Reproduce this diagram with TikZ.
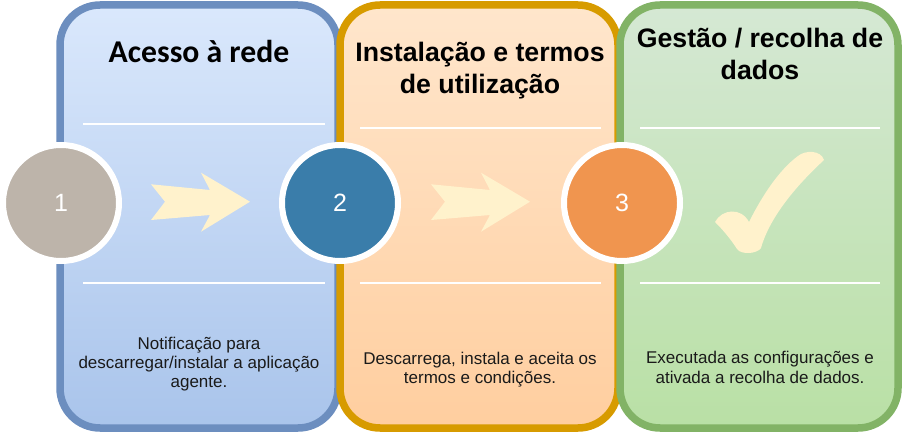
\documentclass[tikz,border=0pt]{standalone}
\usepackage{fontspec}
\setmainfont{Liberation Sans}
\newfontfamily\carl{Carlito}
\definecolor{bluebd}{HTML}{6C8EBF}
\definecolor{bluetop}{HTML}{DAE8FC}
\definecolor{bluebot}{HTML}{A9C4EB}
\definecolor{orbd}{HTML}{D79B00}
\definecolor{ortop}{HTML}{FFE6CC}
\definecolor{orbot}{HTML}{FFCE9F}
\definecolor{grbd}{HTML}{82B366}
\definecolor{grtop}{HTML}{D5E8D4}
\definecolor{grbot}{HTML}{B9E0A5}
\definecolor{cone}{HTML}{BDB4AA}
\definecolor{ctwo}{HTML}{3A7DAA}
\definecolor{cthree}{HTML}{F0954F}
\definecolor{arrowcol}{HTML}{FFF2CC}
\definecolor{bodytext}{HTML}{1A1A1A}
\begin{document}
\begin{tikzpicture}[x=1pt,y=-1pt,
  panel/.style={draw, line width=7.5pt, rounded corners=40pt, minimum width=278pt, minimum height=423pt, inner sep=0pt, outer sep=0pt},
  numcircle/.style={circle, draw=white, line width=6pt, minimum size=116pt, inner sep=0pt, text=white, font=\fontsize{25}{29}\selectfont},
  sepline/.style={draw=white, line width=2pt},
  titletext/.style={anchor=base, inner sep=0pt, font=\fontsize{26.7}{32}\selectfont\bfseries},
  titleone/.style={anchor=base, inner sep=0pt, font=\carl\fontsize{31.7}{36}\selectfont\bfseries},
  bodyline/.style={anchor=base, inner sep=0pt, text=bodytext, font=\fontsize{17}{20}\selectfont},
  deco/.style={fill=arrowcol, draw=none}
]
\useasboundingbox (0,0) rectangle (904,438);

% panels
\node[panel, draw=bluebd, top color=bluetop, bottom color=bluebot] (p1) at (199,216.5) {};
\node[panel, draw=orbd, top color=ortop, bottom color=orbot] (p2) at (479,216.5) {};
\node[panel, draw=grbd, top color=grtop, bottom color=grbot] (p3) at (759,216.5) {};

% separator lines
\draw[sepline] (83,124) -- (325,124);
\draw[sepline] (83,283) -- (325,283);
\draw[sepline] (360,128) -- (601,128);
\draw[sepline] (360,283) -- (601,283);
\draw[sepline] (640,128) -- (880,128);
\draw[sepline] (640,283) -- (880,283);

% arrows
\foreach \dx in {0,280}{
  \fill[deco] (151+\dx,184.3) -- (165+\dx,201.7) -- (151+\dx,220) -- (210+\dx,215) -- (201+\dx,231.7)
    -- (250+\dx,201.7) -- (201+\dx,172.7) -- (210+\dx,190) -- cycle;
}

% check mark
\fill[deco] (715,222) .. controls (722,209) and (741,207) .. (749,222)
  .. controls (762,196) and (779,170) .. (798,156)
  .. controls (805,150) and (821,150) .. (824,160)
  .. controls (798,184) and (770,216) .. (761,248)
  .. controls (757,254) and (741,255) .. (737,249)
  .. controls (730,238) and (722,229) .. (715,222) -- cycle;

% circles
\node[numcircle, fill=cone] (c1) at (61,203) {1};
\node[numcircle, fill=ctwo] (c2) at (340,203) {2};
\node[numcircle, fill=cthree] (c3) at (622,203) {3};

% titles
\node[titleone] (h1) at (199,63) {Acesso à rede};
\node[titletext] (h2a) at (480,61.5) {Instalação e termos};
\node[titletext] (h2b) at (480,93.5) {de utilização};
\node[titletext] (h3a) at (760,47.5) {Gestão / recolha de};
\node[titletext] (h3b) at (760,79.5) {dados};

% body texts
\node[bodyline] (b1a) at (199,349) {Notificação para};
\node[bodyline] (b1b) at (199,368) {descarregar/instalar a aplicação};
\node[bodyline] (b1c) at (199,387) {agente.};
\node[bodyline] (b2a) at (480,364) {Descarrega, instala e aceita os};
\node[bodyline] (b2b) at (480,383) {termos e condições.};
\node[bodyline] (b3a) at (760,363) {Executada as configurações e};
\node[bodyline] (b3b) at (760,383) {ativada a recolha de dados.};
\end{tikzpicture}
\end{document}
